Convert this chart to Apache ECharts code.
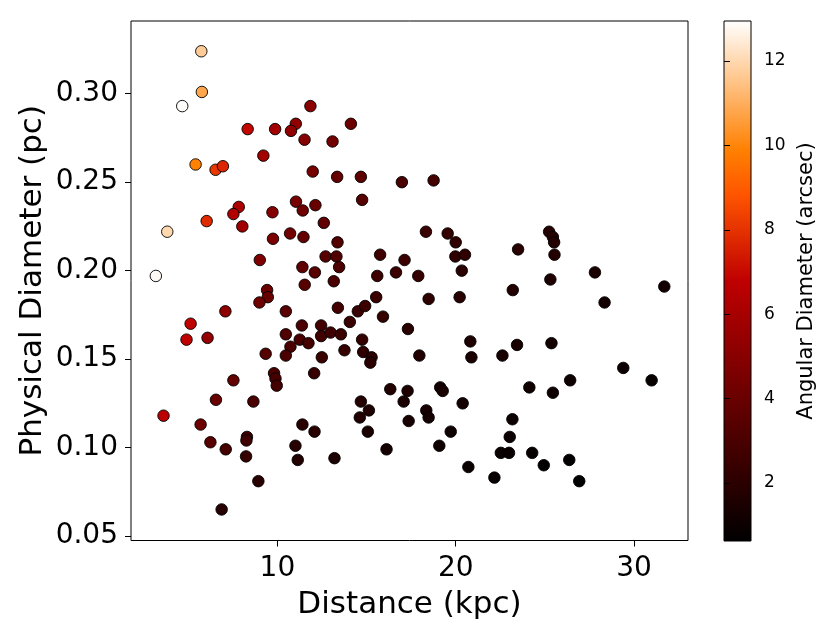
<!DOCTYPE html>
<html><head><meta charset="utf-8">
<script src="https://cdn.jsdelivr.net/npm/echarts@6/dist/echarts.min.js"></script>
<style>html,body{margin:0;padding:0;background:#fff}#c{width:830px;height:635px}</style>
</head><body><div id="c"></div><script>
const distance = [5.73,5.76,4.66,11.85,11.03,10.76,8.33,9.87,11.52,9.21,11.98,5.41,6.53,6.94,
14.12,13.09,13.35,14.68,16.98,18.76,
7.83,7.53,6.03,3.82,9.72,11.04,11.42,12.13,8.03,9.75,10.71,11.46,9.01,3.18,11.40,12.10,11.53,9.42,9.46,8.99,7.08,10.47,5.13,4.90,6.08,11.37,10.47,11.25,11.74,10.73,9.34,10.47,
14.75,12.60,13.37,12.70,13.31,13.46,13.16,15.76,15.60,16.65,17.13,17.90,18.33,19.55,20.00,19.98,20.52,20.34,15.54,18.48,20.22,13.39,14.51,14.92,15.92,14.06,12.45,12.45,12.98,13.56,14.75,17.32,20.82,12.49,13.76,14.81,15.28,15.21,17.96,20.88,
25.24,25.45,25.52,25.54,23.50,25.31,27.81,23.20,28.35,31.70,23.44,25.37,22.62,
9.81,9.89,9.96,12.06,7.53,6.55,8.65,3.61,5.69,6.24,7.10,8.29,8.26,8.24,8.93,6.87,11.40,12.08,11.01,11.14,
16.33,17.30,17.08,19.13,19.27,20.39,14.68,15.13,14.62,15.07,17.36,18.35,18.48,19.72,16.12,19.08,13.20,20.71,22.17,
29.40,30.99,24.13,25.45,26.42,23.18,23.03,22.53,22.99,24.29,24.94,26.37,26.93];

const diameter = [0.324,0.301,0.293,0.293,0.283,0.279,0.280,0.280,0.274,0.265,0.256,0.260,0.257,0.259,
0.283,0.273,0.253,0.253,0.250,0.251,
0.236,0.232,0.228,0.222,0.233,0.239,0.234,0.237,0.225,0.218,0.221,0.219,0.206,0.197,0.202,0.199,0.192,0.189,0.185,0.182,0.177,0.177,0.170,0.161,0.162,0.169,0.164,0.161,0.159,0.157,0.153,0.152,
0.240,0.227,0.216,0.208,0.208,0.202,0.194,0.209,0.197,0.199,0.206,0.197,0.222,0.221,0.216,0.208,0.209,0.200,0.185,0.184,0.185,0.179,0.177,0.180,0.174,0.171,0.169,0.163,0.165,0.164,0.161,0.167,0.160,0.151,0.155,0.154,0.151,0.148,0.152,0.151,
0.222,0.219,0.216,0.209,0.212,0.195,0.199,0.189,0.182,0.191,0.158,0.159,0.152,
0.142,0.139,0.135,0.142,0.138,0.127,0.126,0.118,0.113,0.103,0.099,0.106,0.104,0.095,0.081,0.065,0.113,0.109,0.101,0.093,
0.133,0.132,0.126,0.134,0.132,0.125,0.126,0.121,0.117,0.109,0.115,0.121,0.117,0.109,0.099,0.101,0.094,0.089,0.083,
0.145,0.138,0.134,0.131,0.138,0.116,0.106,0.097,0.097,0.097,0.090,0.093,0.081];

const angular = [11.7,10.8,12.9,5.1,5.3,5.3,6.9,5.9,4.9,5.9,4.4,9.9,8.1,7.7,
4.1,4.3,3.9,3.6,3.0,2.8,
6.2,6.3,7.8,12.0,4.9,4.5,4.2,4.0,5.8,4.6,4.3,3.9,4.7,12.8,3.7,3.4,3.4,4.1,4.0,4.2,5.2,3.5,6.8,6.8,5.5,3.1,3.2,3.0,2.8,3.0,3.4,3.0,
3.4,3.7,3.3,3.4,3.2,3.1,3.0,2.7,2.6,2.5,2.5,2.3,2.5,2.3,2.2,2.1,2.1,2.0,2.5,2.1,1.9,2.8,2.5,2.5,2.3,2.5,2.8,2.7,2.6,2.5,2.3,2.0,1.6,2.5,2.3,2.1,2.0,2.0,1.7,1.5,
1.8,1.8,1.7,1.7,1.9,1.6,1.5,1.7,1.3,1.2,1.4,1.3,1.4,
3.0,2.9,2.8,2.4,3.8,4.0,3.0,6.7,4.1,3.4,2.9,2.6,2.6,2.4,1.9,1.9,2.0,1.9,1.9,1.7,
1.7,1.6,1.5,1.4,1.4,1.3,1.8,1.6,1.7,1.5,1.4,1.4,1.3,1.1,1.3,1.1,1.5,0.9,0.8,
1.0,0.9,1.1,1.1,1.1,1.0,1.0,0.9,0.9,0.8,0.7,0.7,0.63];

const xTicks = [10, 20, 30];
const yTicks = [0.05, 0.10, 0.15, 0.20, 0.25, 0.30];
const cbTicks = [2, 4, 6, 8, 10, 12];
const cbRange = [0.62, 12.95];
const xRange = [1.786, 33.03];
const yRange = [0.04746, 0.3411];

// gist_heat colormap stops (t = 0 .. 1 in steps of 1/12)
const heat = ['#000000','#200000','#400000','#600000','#800000','#9f0000','#bf0000',
              '#df2b00','#ff5500','#ff8000','#ffaa55','#ffd5aa','#ffffff'];

const points = distance.map((d, i) => [d, diameter[i], angular[i]]);

const FONT = 'DejaVu Sans';
const chart = echarts.init(document.getElementById('c'), null, {renderer: 'canvas'});

const option = {
  animation: false,
  backgroundColor: '#fff',
  textStyle: {fontFamily: FONT, color: '#000'},
  grid: [
    {left: 131, top: 21, width: 557, height: 519.5, show: true, borderColor: '#000', borderWidth: 1,
     backgroundColor: 'transparent', outerBoundsMode: 'none', containLabel: false},
    {left: 724, top: 21, width: 27, height: 520, outerBoundsMode: 'none', containLabel: false}
  ],
  xAxis: [
    {gridIndex: 0, type: 'value', min: xRange[0], max: xRange[1],
     name: 'Distance (kpc)', nameLocation: 'middle', nameGap: 49, nameMoveOverlap: false,
     nameTextStyle: {fontSize: 31, color: '#000', fontFamily: FONT},
     axisLine: {show: false},
     axisTick: {show: true, inside: false, length: 6, customValues: xTicks, lineStyle: {color: '#000', width: 1}},
     axisLabel: {customValues: xTicks, fontSize: 28, color: '#000', margin: 14, fontFamily: FONT},
     splitLine: {show: false}},
    {gridIndex: 1, type: 'value', min: 0, max: 1, show: false}
  ],
  yAxis: [
    {gridIndex: 0, type: 'value', min: yRange[0], max: yRange[1],
     name: 'Physical Diameter (pc)', nameLocation: 'middle', nameRotate: 90, nameGap: 83, nameMoveOverlap: false,
     nameTextStyle: {fontSize: 31, color: '#000', fontFamily: FONT},
     axisLine: {show: false},
     axisTick: {show: true, inside: false, length: 6, customValues: yTicks, lineStyle: {color: '#000', width: 1}},
     axisLabel: {customValues: yTicks, fontSize: 28, color: '#000', margin: 13, fontFamily: FONT,
                 formatter: v => Number(v).toFixed(2)},
     splitLine: {show: false}},
    {gridIndex: 1, type: 'value', position: 'right', min: cbRange[0], max: cbRange[1],
     name: 'Angular Diameter (arcsec)', nameLocation: 'middle', nameRotate: 90, nameGap: 45, nameMoveOverlap: false,
     nameTextStyle: {fontSize: 21, color: '#000', fontFamily: FONT},
     axisLine: {show: false},
     axisTick: {show: true, inside: false, length: 6, customValues: cbTicks, lineStyle: {color: '#000', width: 1}},
     axisLabel: {customValues: cbTicks, fontSize: 17, color: '#000', margin: 13, fontFamily: FONT},
     splitLine: {show: false}, z: 10}
  ],
  visualMap: {
    show: false, type: 'continuous', min: cbRange[0], max: cbRange[1], dimension: 2, seriesIndex: 0,
    inRange: {color: heat}
  },
  series: [
    {type: 'scatter', xAxisIndex: 0, yAxisIndex: 0, data: points, symbolSize: 11.5,
     itemStyle: {borderColor: '#000', borderWidth: 0.9, opacity: 1}, silent: true},
    {type: 'custom', xAxisIndex: 1, yAxisIndex: 1, silent: true, clip: false,
     data: [[0, cbRange[0], cbRange[1]]],
     renderItem: function (params, api) {
       const p0 = api.coord([0, api.value(2)]);
       const p1 = api.coord([1, api.value(1)]);
       const stops = heat.slice().reverse().map((c, i, a) => ({offset: i / (a.length - 1), color: c}));
       return {
         type: 'rect',
         shape: {x: p0[0], y: p0[1], width: p1[0] - p0[0], height: p1[1] - p0[1]},
         style: {fill: new echarts.graphic.LinearGradient(0, 0, 0, 1, stops), stroke: '#000', lineWidth: 1}
       };
     }}
  ]
};
chart.setOption(option);
</script></body></html>
